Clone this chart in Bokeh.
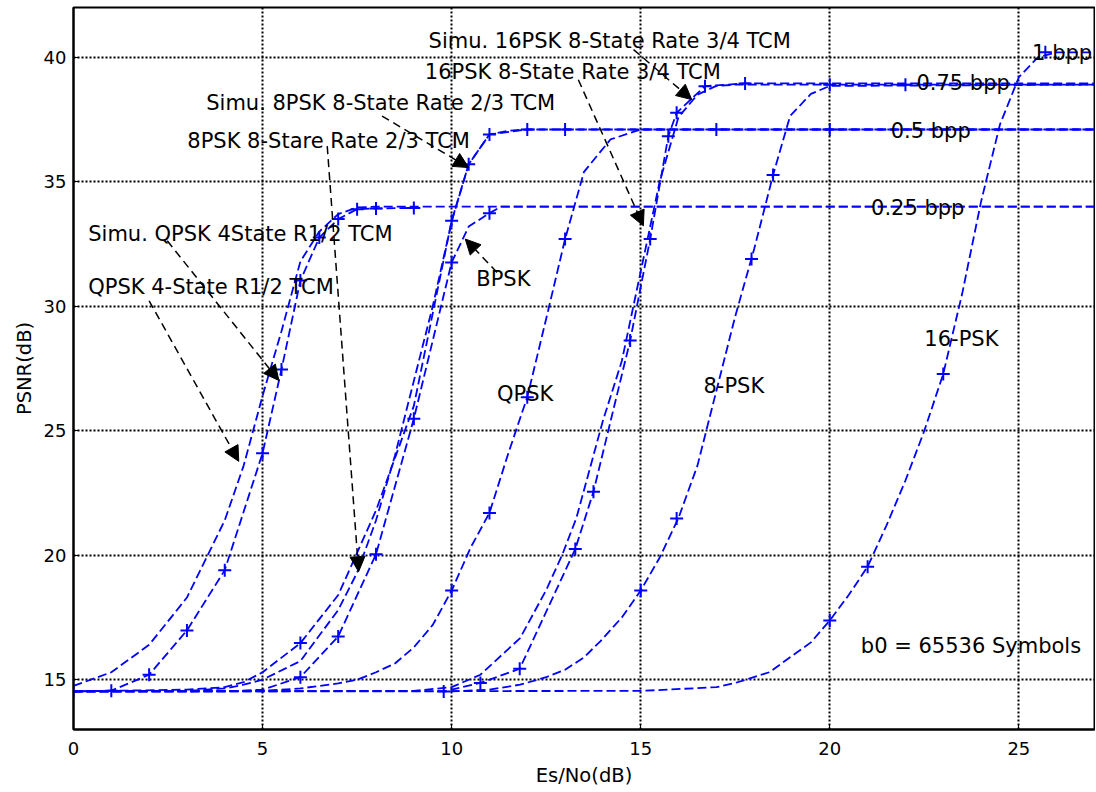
from bokeh.plotting import figure
from bokeh.models import Range1d, Arrow, NormalHead, ColumnDataSource, FixedTicker
from bokeh.embed import file_html
from bokeh.resources import INLINE
from bokeh.core.properties import value

# ---------------- data ----------------
# 0.25 bpp group
qtcm_th_x = [0, 1, 2, 3, 4, 4.5, 5, 5.5, 6, 6.5, 7, 7.5, 8, 27]
qtcm_th_y = [14.75, 15.3, 16.4, 18.3, 21.4, 23.6, 26.4, 29.0, 31.8, 33.0, 33.7, 33.97, 34.0, 34.0]
qtcm_sim_x = [0, 1, 2, 3, 4, 5, 5.5, 6, 6.5, 7, 7.5, 8, 9]
qtcm_sim_y = [14.53, 14.56, 15.2, 16.98, 19.4, 24.1, 27.46, 31.03, 32.76, 33.5, 33.9, 33.93, 33.95]
bpsk_x = [0, 4, 5, 6, 7, 8, 9, 10, 10.45, 11, 11.3, 27]
bpsk_y = [14.53, 14.53, 14.6, 15.1, 16.74, 20.04, 25.48, 31.76, 33.2, 33.74, 34.0, 34.0]
bpsk_sim_x = [6, 7, 8, 9, 10, 11]
bpsk_sim_y = [15.1, 16.74, 20.04, 25.48, 31.76, 33.74]

# 0.5 bpp group
tcm8_th_x = [0, 3, 4, 4.5, 5, 6, 7, 7.5, 8, 8.5, 9, 9.5, 10, 10.45, 11, 11.5, 12, 27]
tcm8_th_y = [14.53, 14.55, 14.65, 14.8, 15.0, 15.75, 17.8, 19.3, 21.4, 24.0, 27.0, 30.0, 33.4, 35.7, 36.9, 37.05, 37.1, 37.1]
tcm8_sim_x = [0, 3, 4, 4.5, 5, 6, 7, 8, 9, 10, 10.45, 11, 12, 13, 27]
tcm8_sim_y = [14.53, 14.6, 14.7, 14.9, 15.3, 16.47, 18.4, 21.8, 26.0, 33.43, 35.7, 36.9, 37.1, 37.1, 37.1]
tcm8_mk_x = [6, 10, 10.45, 11, 12, 13]
tcm8_mk_y = [16.47, 33.43, 35.7, 36.9, 37.1, 37.1]
qpsk_x = [0, 5, 6, 7, 7.5, 8, 8.5, 9, 9.5, 10, 10.5, 11, 11.5, 12, 12.5, 13, 13.5, 14.2, 15, 27]
qpsk_y = [14.53, 14.55, 14.65, 14.85, 15.0, 15.3, 15.65, 16.3, 17.2, 18.58, 20.3, 21.7, 24.1, 26.35, 29.5, 32.7, 35.4, 36.7, 37.1, 37.1]
qpsk_sim_x = [10, 11, 12, 13, 17, 20]
qpsk_sim_y = [18.58, 21.7, 26.35, 32.7, 37.1, 37.1]

# 0.75 bpp group
tcm16_th_x = [0, 9, 10, 10.76, 11.81, 12.5, 12.92, 13.3, 14, 14.5, 15, 15.5, 16, 16.5, 17, 17.5, 27]
tcm16_th_y = [14.53, 14.55, 14.7, 15.2, 16.67, 18.6, 20.0, 21.5, 25.4, 27.8, 31.4, 35.0, 37.6, 38.5, 38.85, 38.9, 38.9]
tcm16_sim_x = [9.79, 10.76, 11.8, 13.27, 13.75, 14.72, 15.25, 15.73, 15.95, 16.7, 17.76, 27]
tcm16_sim_y = [14.53, 14.87, 15.44, 20.25, 22.55, 28.62, 32.7, 36.83, 37.77, 38.84, 38.95, 38.95]
psk8_x = [0, 10, 11, 11.81, 12.5, 13, 13.5, 13.93, 14.5, 15, 15.5, 16, 16.5, 17, 17.5, 18, 18.5, 18.95, 19.5, 20, 27]
psk8_y = [14.53, 14.53, 14.6, 14.8, 15.1, 15.4, 15.9, 16.54, 17.5, 18.58, 19.9, 21.5, 23.6, 26.6, 29.6, 32.3, 35.27, 37.64, 38.53, 38.85, 38.9]
psk8_sim_x = [15, 15.95, 17.93, 18.5, 20, 22]
psk8_sim_y = [18.58, 21.48, 31.9, 35.27, 38.9, 38.9]

# 1 bpp group
psk16_x = [0, 15, 17, 17.5, 18.4, 19.5, 20, 20.5, 21, 21.5, 22, 22.5, 23, 23.5, 24, 24.5, 25, 25.5, 26, 27]
psk16_y = [14.53, 14.55, 14.7, 14.87, 15.3, 16.5, 17.38, 18.4, 19.54, 21.2, 23.0, 25.0, 27.28, 30.5, 34.2, 37.3, 39.2, 40.0, 40.2, 40.2]
psk16_sim_x = [20, 21, 23, 25.7]
psk16_sim_y = [17.38, 19.54, 27.28, 40.2]

# annotations
ann_text = ["Simu. 16PSK 8-State Rate 3/4 TCM", "16PSK 8-State Rate 3/4 TCM",
            "Simu. 8PSK 8-State Rate 2/3 TCM", "8PSK 8-Stare Rate 2/3 TCM",
            "Simu. QPSK 4State R1/2 TCM", "QPSK 4-State R1/2 TCM",
            "BPSK", "QPSK", "8-PSK", "16-PSK", "b0 = 65536 Symbols",
            "0.25 bpp", "0.5 bpp", "0.75 bpp", "1 bpp"]
ann_x = [9.39, 9.29, 3.51, 3.01, 0.39, 0.39, 10.65, 11.2, 16.66, 22.5, 20.82, 21.09, 21.61, 22.29, 25.35]
ann_y = [40.67, 39.4, 38.17, 36.63, 32.9, 30.76, 31.09, 26.49, 26.8, 28.69, 16.36, 33.93, 37.04, 38.97, 40.18]

arrow_x0 = [14.81, 13.35, 8.16, 6.71, 2.48, 2.0, 11.2]
arrow_y0 = [40.31, 39.1, 37.64, 36.43, 32.63, 30.22, 31.36]
arrow_x1 = [16.35, 15.07, 10.45, 7.54, 5.43, 4.37, 10.36]
arrow_y1 = [38.3, 33.23, 35.57, 19.34, 27.02, 23.77, 32.7]

x_ticks = [0, 5, 10, 15, 20, 25]
y_ticks = [15, 20, 25, 30, 35, 40]

# ---------------- figure ----------------
FONT = "DejaVu Sans"
p = figure(width=1095, height=789, x_range=Range1d(0, 27), y_range=Range1d(13, 42),
           output_backend="svg", toolbar_location=None,
           min_border_left=73, min_border_right=1, min_border_top=7, min_border_bottom=57)
p.background_fill_color = "white"
p.border_fill_color = "white"
p.outline_line_color = "black"
p.outline_line_width = 2

p.xaxis.ticker = FixedTicker(ticks=x_ticks)
p.yaxis.ticker = FixedTicker(ticks=y_ticks)
for ax in (p.xaxis, p.yaxis):
    ax.axis_line_color = "black"
    ax.axis_line_width = 2
    ax.major_tick_in = 5
    ax.major_tick_out = 0
    ax.major_tick_line_color = "black"
    ax.minor_tick_line_color = None
    ax.major_label_text_font = FONT
    ax.major_label_text_font_size = "18px"
    ax.major_label_text_color = "black"
    ax.axis_label_text_font = FONT
    ax.axis_label_text_font_size = "19.5px"
    ax.axis_label_text_font_style = "normal"
    ax.axis_label_text_color = "black"
p.xaxis.axis_label = "Es/No(dB)"
p.yaxis.axis_label = "PSNR(dB)"
p.xaxis.major_label_standoff = 12
p.xaxis.axis_label_standoff = 6
p.yaxis.major_label_standoff = 7
p.yaxis.axis_label_standoff = 5

p.grid.grid_line_color = "black"
p.grid.grid_line_dash = "2 2"
p.grid.grid_line_width = 2

BLUE = "#0000ff"
DASH = "9 4"
LW = 1.8

def dashed(xs, ys, offset=0):
    p.line(xs, ys, line_color=BLUE, line_width=LW, line_dash=DASH, line_dash_offset=offset)

def marks(xs, ys):
    p.scatter(xs, ys, marker="cross", size=13, line_color=BLUE, line_width=2)

dashed(qtcm_th_x, qtcm_th_y)
dashed(qtcm_sim_x, qtcm_sim_y, 5)
marks(qtcm_sim_x, qtcm_sim_y)
dashed(bpsk_x, bpsk_y)
marks(bpsk_sim_x, bpsk_sim_y)
dashed(tcm8_th_x, tcm8_th_y)
dashed(tcm8_sim_x, tcm8_sim_y, 6)
marks(tcm8_mk_x, tcm8_mk_y)
dashed(qpsk_x, qpsk_y)
marks(qpsk_sim_x, qpsk_sim_y)
dashed(tcm16_th_x, tcm16_th_y)
dashed(tcm16_sim_x, tcm16_sim_y, 6)
marks(tcm16_sim_x[:-1], tcm16_sim_y[:-1])
dashed(psk8_x, psk8_y)
marks(psk8_sim_x, psk8_sim_y)
dashed(psk16_x, psk16_y)
marks(psk16_sim_x, psk16_sim_y)

for xa, ya, xb, yb in zip(arrow_x0, arrow_y0, arrow_x1, arrow_y1):
    p.add_layout(Arrow(end=NormalHead(size=15, fill_color="black", line_color="black"),
                       x_start=xa, y_start=ya, x_end=xb, y_end=yb,
                       line_color="black", line_width=1.5, line_dash="8 5"))

src = ColumnDataSource(dict(x=ann_x, y=ann_y, t=ann_text))
p.text(x="x", y="y", text="t", source=src, text_font=value(FONT), text_font_size=value("21px"),
       text_baseline="middle", text_align="left", text_color="black")

open("out.html", "w").write(file_html(p, INLINE))
